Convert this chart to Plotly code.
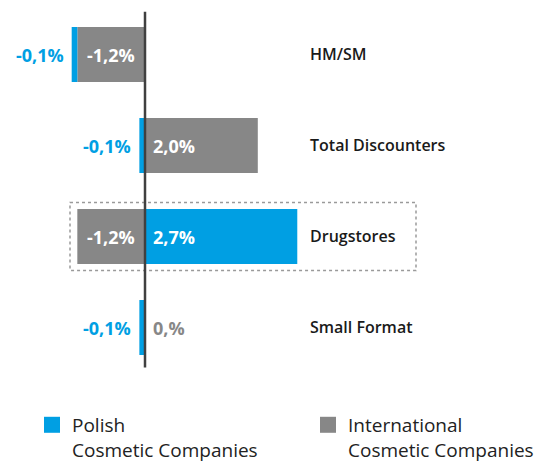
import plotly.graph_objects as go

# ---- data ----
categories = ["HM/SM", "Total Discounters", "Drugstores", "Small Format"]
polish = [-0.1, -0.1, 2.7, -0.1]
international = [-1.2, 2.0, -1.2, 0.0]
polish_labels = ["-0,1%", "-0,1%", "2,7%", "-0,1%"]
international_labels = ["-1,2%", "2,0%", "-1,2%", "0,%"]
highlight = "Drugstores"
legend_names = ["Polish<br>Cosmetic Companies", "International<br>Cosmetic Companies"]

BLUE = "#009FE3"
GRAY = "#878787"
FONT = "Open Sans"
PW = 300  # plot area width in px

fig = go.Figure()
# International first so it stacks closest to zero
fig.add_trace(go.Bar(
    y=categories, x=international, orientation="h", marker_color=GRAY,
    marker_line_width=0, showlegend=False, hoverinfo="skip"))
fig.add_trace(go.Bar(
    y=categories, x=polish, orientation="h", marker_color=BLUE,
    marker_line_width=0, showlegend=False, hoverinfo="skip"))
# legend entries (square swatches)
for name, color, lg in [(legend_names[0], BLUE, "legend"), (legend_names[1], GRAY, "legend2")]:
    fig.add_trace(go.Scatter(
        x=[None], y=[None], mode="markers", name=name, legend=lg,
        marker=dict(symbol="square", size=16, color=color), hoverinfo="skip"))

# value labels, derived from the stacked positions
series = [(international, international_labels, GRAY), (polish, polish_labels, BLUE)]
pos = [0.0] * len(categories)
neg = [0.0] * len(categories)
annotations = []
for vals, labels, color in series:
    for i, v in enumerate(vals):
        if v >= 0:
            base = pos[i]; pos[i] += v
        else:
            base = neg[i]; neg[i] += v
        end = base + v
        if abs(v) >= 0.5:
            x = base; col = "white"
            anchor = "left" if v >= 0 else "right"
            shift = 6 if v >= 0 else -8
        else:
            x = end; col = color
            anchor = "left" if v >= 0 else "right"
            shift = 6 if v >= 0 else -6
        annotations.append(dict(
            x=x, y=categories[i], xref="x", yref="y", text=labels[i],
            showarrow=False, xanchor=anchor, xshift=shift,
            font=dict(family=FONT, size=18, color=col, weight=700)))

hi = categories.index(highlight)
shapes = [
    dict(type="rect", xref="paper", yref="y", x0=70 / PW, x1=416 / PW,
         y0=hi - 0.374, y1=hi + 0.374, layer="below",
         line=dict(color="#9a9a9a", width=1.5, dash="dot")),
    dict(type="line", xref="x", yref="y", x0=0, x1=0, y0=-0.47, y1=len(categories) - 0.56,
         layer="above", line=dict(color="#404040", width=2.5)),
]

legend_common = dict(orientation="h", xanchor="left", yanchor="top", valign="top",
                     font=dict(family=FONT, size=19, color="#222222"),
                     itemclick=False, itemdoubleclick=False, bgcolor="rgba(0,0,0,0)")

fig.update_layout(
    width=555, height=463,
    margin=dict(l=0, r=555 - PW, t=9, b=90, pad=0, autoexpand=False),
    barmode="relative", bargap=0.395,
    plot_bgcolor="white", paper_bgcolor="white",
    font=dict(family=FONT, color="#1a1a1a"),
    xaxis=dict(range=[-145 / 56.4, (PW - 145) / 56.4], visible=False, fixedrange=True),
    yaxis=dict(type="category", categoryorder="array", categoryarray=categories,
               autorange="reversed", side="right", showgrid=False, zeroline=False,
               showline=False, ticks="", ticklabelstandoff=9, fixedrange=True,
               tickfont=dict(family=FONT, size=16, color="#1a1a1a", weight=600)),
    showlegend=True,
    legend=dict(x=32 / PW, y=-0.0905, **legend_common),
    legend2=dict(x=308 / PW, y=-0.0905, **legend_common),
    annotations=annotations, shapes=shapes,
)

fig.write_html("out.html", config={"displayModeBar": False},
               post_script="document.body.style.margin='0px';")
